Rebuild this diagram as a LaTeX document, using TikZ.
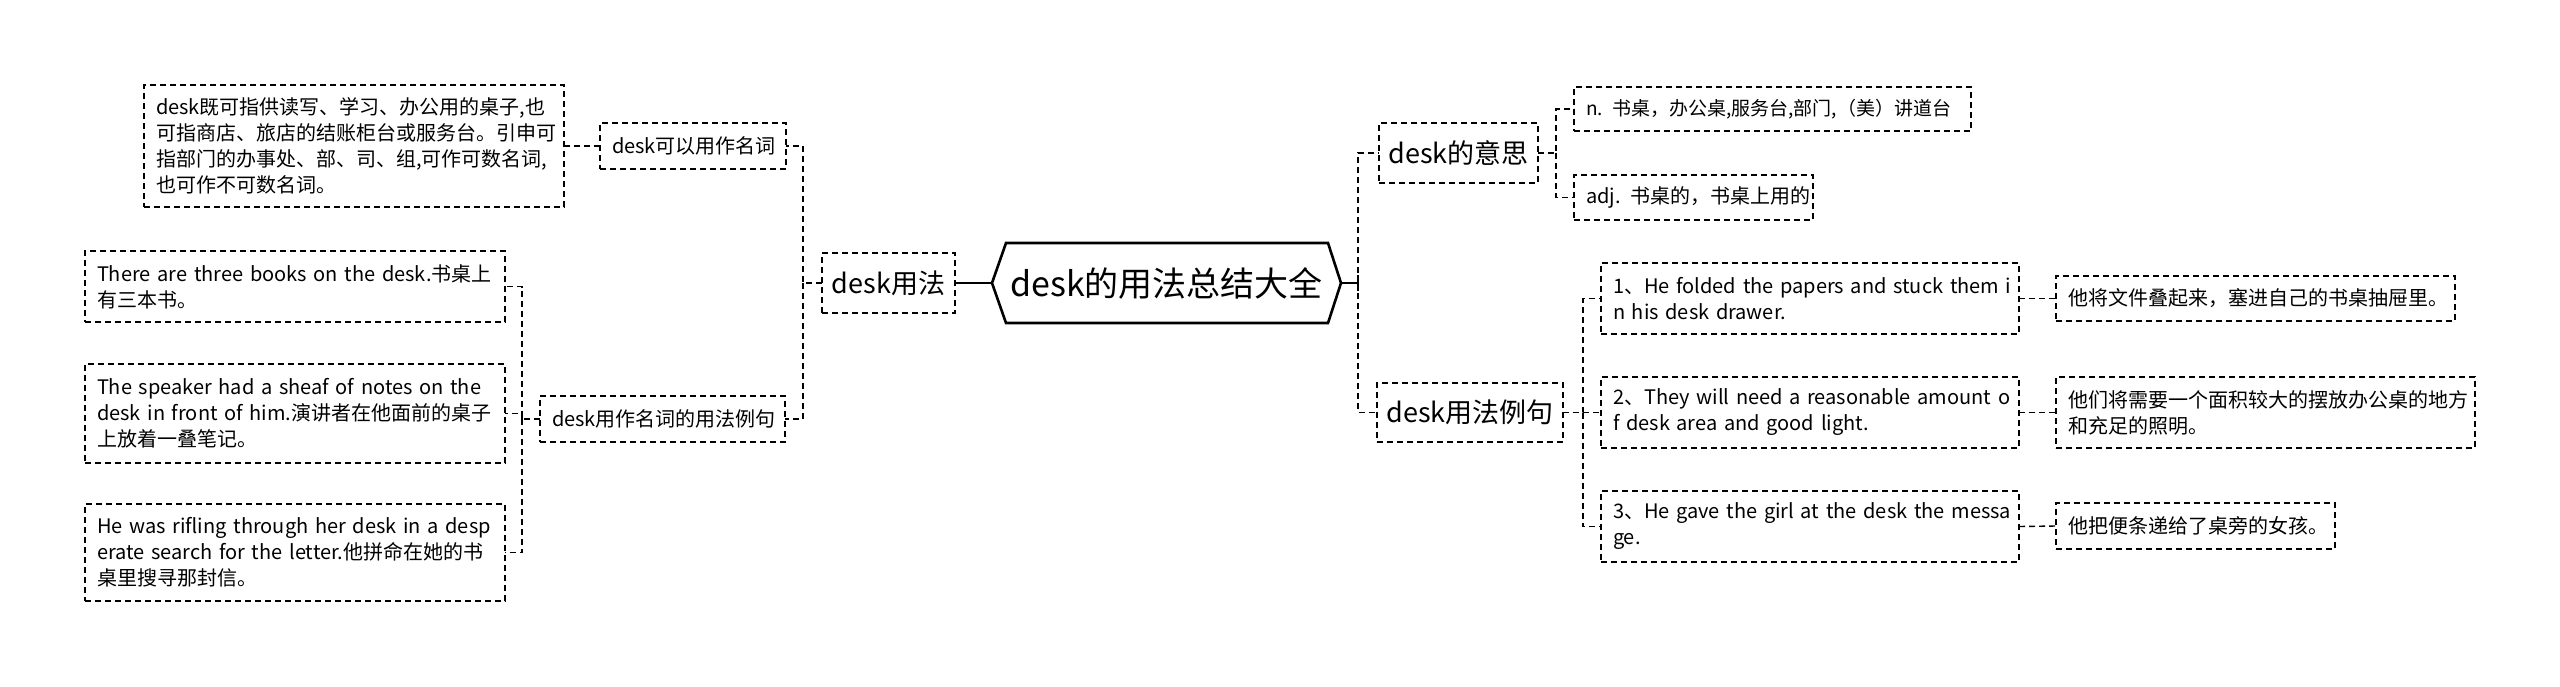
\documentclass[tikz,border=0pt]{standalone}
\usepackage{fontspec}
\setmainfont{Noto Sans CJK SC}
\usetikzlibrary{calc}
\newcommand\hb[1]{\mbox{#1}}
\begin{document}
\begin{tikzpicture}[x=1pt,y=-1pt,
  dsh/.style={draw=black, line width=1.4pt, dash pattern=on 6pt off 4pt},
  conn/.style={dsh},
  box/.style={dsh, inner xsep=12pt, inner ysep=0pt, outer sep=0pt, font=\fontsize{20}{26}\selectfont, align=left},
  mid/.style={dsh, inner sep=0pt, outer sep=0pt, font=\fontsize{27}{32}\selectfont, align=center},
  lvl/.style={dsh, inner xsep=12pt, inner ysep=0pt, outer sep=0pt, font=\fontsize{20}{26}\selectfont, align=left},
  rootline/.style={draw=black, line width=2.6pt, line join=miter}
]
\useasboundingbox[fill=white] (0,0) rectangle (2560,686);

% root
\node[inner sep=0pt, outer sep=0pt, minimum width=349pt, minimum height=80pt, font=\fontsize{34}{40}\selectfont] (root) at (1166.5,283) {desk的用法总结大全};
\draw[rootline] (root.west) -- ($(root.north west)+(14,0)$) -- ($(root.north east)+(-13,0)$) -- (root.east) -- ($(root.south east)+(-13,0)$) -- ($(root.south west)+(14,0)$) -- cycle;

% level 2
\node[mid, minimum width=133pt, minimum height=60pt] (use) at (888.5,283) {desk用法};
\node[mid, minimum width=159pt, minimum height=60pt] (mean) at (1458.5,153) {desk的意思};
\node[mid, minimum width=186pt, minimum height=59pt] (ex) at (1470,412.5) {desk用法例句};

% level 3 left
\node[lvl, text width=162pt, minimum height=46pt] (noun) at (693,146) {desk可以用作名词};
\node[lvl, text width=221pt, minimum height=46pt] (nounex) at (662.5,419) {desk用作名词的用法例句};

% left leaves
\node[box, text width=396pt, minimum height=122pt] (b1) at (354,146) {\hb{desk既可指供读写、学习、办公用的桌子,也}\\\hb{可指商店、旅店的结账柜台或服务台。引申可}\\\hb{指部门的办事处、部、司、组,可作可数名词,}\\\hb{也可作不可数名词。}};
\node[box, text width=396pt, minimum height=71pt] (s1) at (295,286.5) {\hb{There are three books on the desk.书桌上}\\\hb{有三本书。}};
\node[box, text width=396pt, minimum height=99pt] (s2) at (295,413.5) {\hb{The speaker had a sheaf of notes on the}\\\hb{desk in front of him.演讲者在他面前的桌子}\\\hb{上放着一叠笔记。}};
\node[box, text width=396pt, minimum height=97pt] (s3) at (295,552.5) {\hb{He was rifling through her desk in a desp}\\\hb{erate search for the letter.他拼命在她的书}\\\hb{桌里搜寻那封信。}};

% right meanings
\node[box, text width=373pt, minimum height=44pt, font=\fontsize{19}{26}\selectfont] (m1) at (1772.5,109) {\hb{n. 书桌，办公桌,服务台,部门,（美）讲道台}};
\node[box, text width=215pt, minimum height=45pt] (m2) at (1693.5,197.5) {\hb{adj. 书桌的，书桌上用的}};

% examples
\node[box, text width=394pt, minimum height=71pt] (e1) at (1810,298.5) {\hb{1、He folded the papers and stuck them i}\\\hb{n his desk drawer.}};
\node[box, text width=394pt, minimum height=71pt] (e2) at (1810,412.5) {\hb{2、They will need a reasonable amount o}\\\hb{f desk area and good light.}};
\node[box, text width=394pt, minimum height=71pt] (e3) at (1810,526.5) {\hb{3、He gave the girl at the desk the messa}\\\hb{ge.}};

% translations
\node[box, text width=375pt, minimum height=45pt] (t1) at (2255.5,298.5) {\hb{他将文件叠起来，塞进自己的书桌抽屉里。}};
\node[box, text width=395pt, minimum height=71pt] (t2) at (2265.5,412.5) {\hb{他们将需要一个面积较大的摆放办公桌的地方}\\\hb{和充足的照明。}};
\node[box, text width=255pt, minimum height=46pt] (t3) at (2195.5,526) {\hb{他把便条递给了桌旁的女孩。}};

% trunk coordinates
\coordinate (tU) at (803,0);
\coordinate (tN) at (522,0);
\coordinate (tR) at (1358,0);
\coordinate (tM) at (1556,0);
\coordinate (tE) at (1583,0);

% root connectors
\draw[rootline] (root.west) -- (use.east);
\draw[rootline] (root.east) -- (root.east -| tR);
\draw[line width=2pt] ($(root.east -| tR)+(0,-8)$) -- ($(root.east -| tR)+(0,8)$);
\draw[conn] (root.east -| tR) |- (mean.west);
\draw[conn] (root.east -| tR) |- (ex.west);

% left connectors
\draw[conn] (use.west) -- (use.west -| tU) |- (noun.east);
\draw[conn] (use.west -| tU) |- (nounex.east);
\draw[conn] (noun.west) -- (b1.east);
\draw[conn] (nounex.west) -- (nounex.west -| tN) |- (s1.east);
\draw[conn] (nounex.west -| tN) |- (s2.east);
\draw[conn] (nounex.west -| tN) |- (s3.east);

% right connectors
\draw[conn] (mean.east) -- (mean.east -| tM) |- (m1.west);
\draw[conn] (mean.east -| tM) |- (m2.west);
\draw[conn] (ex.east) -- (ex.east -| tE) |- (e1.west);
\draw[conn] (ex.east -| tE) |- (e2.west);
\draw[conn] (ex.east -| tE) |- (e3.west);
\draw[conn] (e1.east) -- (t1.west);
\draw[conn] (e2.east) -- (t2.west);
\draw[conn] (e3.east) -- (t3.west);
\end{tikzpicture}
\end{document}
